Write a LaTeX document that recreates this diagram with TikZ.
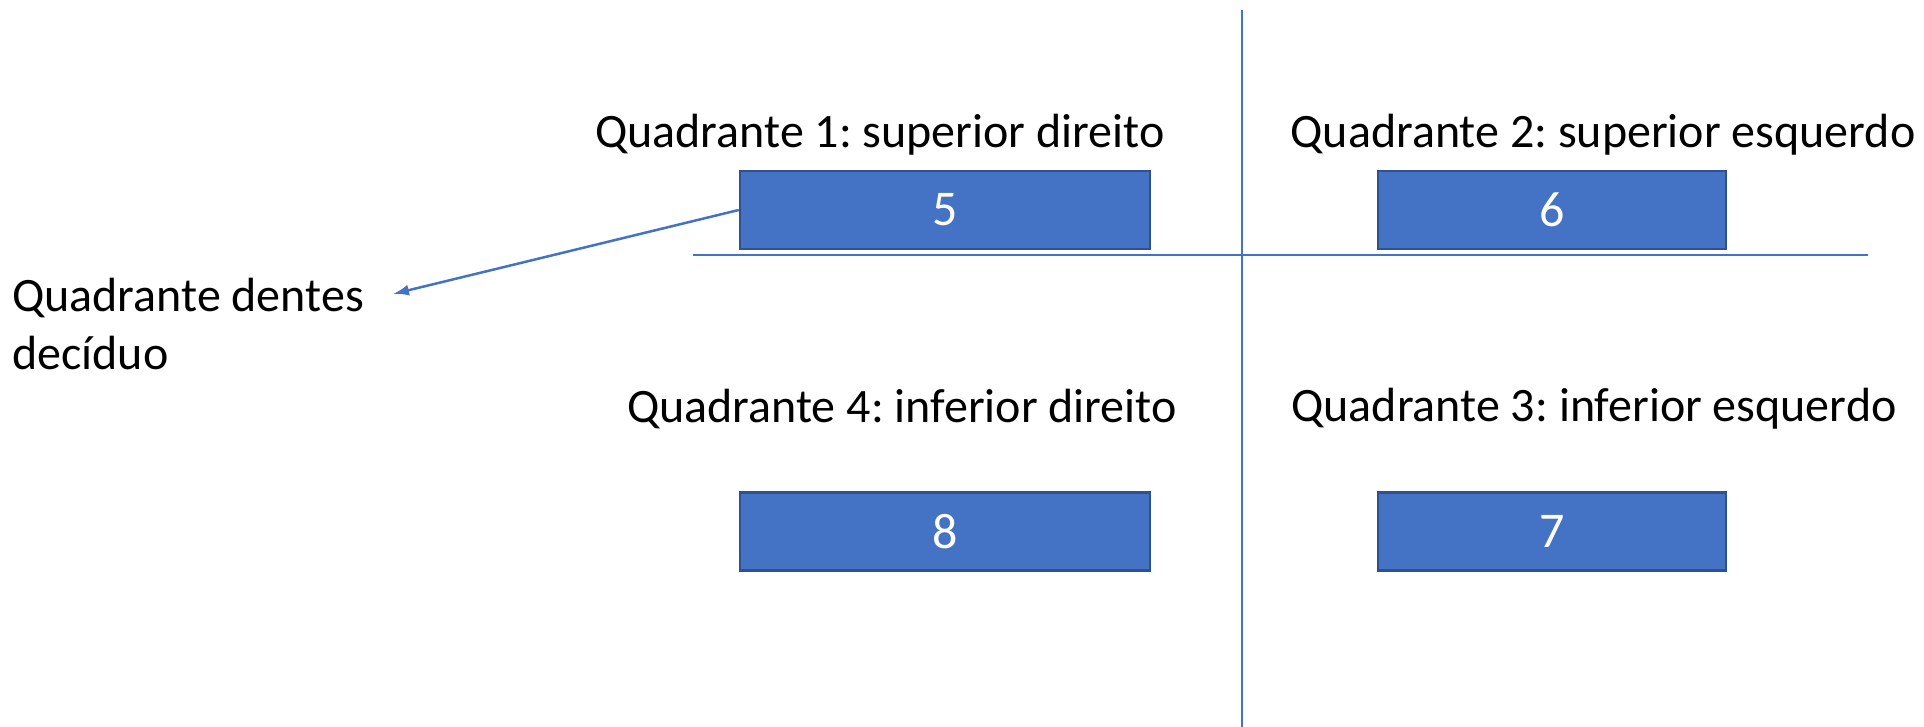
\documentclass[tikz,border=0pt]{standalone}
\usepackage{fontspec}
\setmainfont{Carlito}
\usetikzlibrary{arrows.meta}
\definecolor{obl}{HTML}{4472C4}
\definecolor{obd}{HTML}{2F528F}
\frenchspacing
\begin{document}
\begin{tikzpicture}[x=1pt,y=-1pt,
  box/.style={draw=obd, line width=2.5pt, fill=obl, minimum width=410pt, minimum height=78pt, text=white, font=\fontsize{50}{58}\selectfont, inner sep=0pt},
  lbl/.style={font=\fontsize{48}{58}\selectfont, inner sep=0pt},
  axis/.style={obl, line width=1.5pt},
  pointer/.style={obl, line width=2.5pt, -{Latex[length=16pt,width=11pt]}}]
\useasboundingbox (0,0) rectangle (1924,727);
\coordinate (vt) at (1242,10);
\coordinate (vb) at (1242,727);
\coordinate (hl) at (693,255);
\coordinate (hr) at (1868,255);
\draw[axis] (vt) -- (vb);
\draw[axis] (hl) -- (hr);
\node[box] (b5) at (945,210) {5};
\node[box, minimum width=348pt] (b6) at (1552,210) {6};
\node[box] (b8) at (945,531.5) {8};
\node[box, minimum width=348pt] (b7) at (1552,531.5) {7};
\node[lbl] (q1) at (880,135) {Quadrante 1: superior direito};
\node[lbl] (q2) at (1603,135) {Quadrante 2: superior esquerdo};
\node[lbl] (q4) at (902,409) {Quadrante 4: inferior direito};
\node[lbl] (q3) at (1594,409) {Quadrante 3: inferior esquerdo};
\node[lbl, align=left, anchor=west] (qd) at (12,324) {Quadrante dentes\\decíduo};
\coordinate (ae) at (393,294);
\draw[pointer] (b5.west) -- (ae);
\end{tikzpicture}
\end{document}
